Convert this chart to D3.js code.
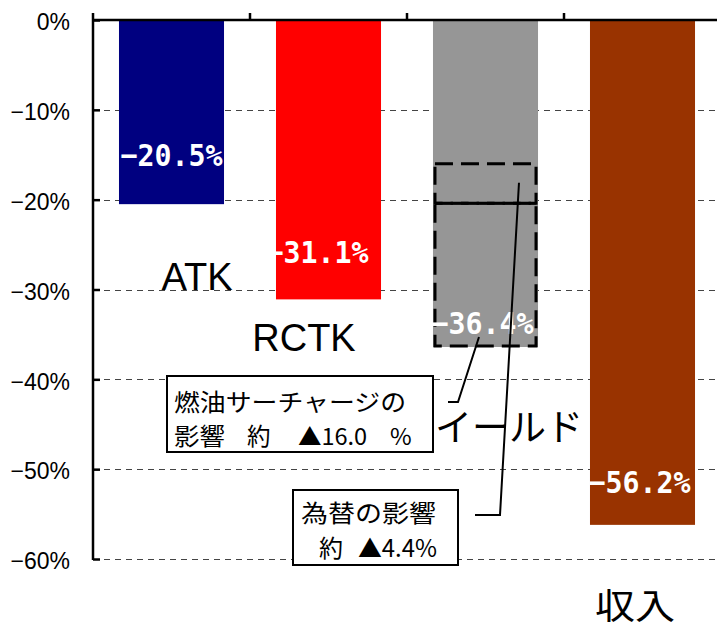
<!DOCTYPE html>
<html>
<head>
<meta charset="utf-8">
<script src="https://cdn.jsdelivr.net/npm/d3@7"></script>
<style>
  html, body { margin: 0; padding: 0; background: #fff; }
  svg { display: block; }
</style>
</head>
<body>
<svg id="chart" width="717" height="629"></svg>
<script>
// Categories and their change rates (%)
const categories = ["ATK", "RCTK", "イールド", "収入"];
const changes = [-20.5, -31.1, -36.4, -56.2];
const barColors = ["#000080", "#ff0000", "#969696", "#993300"];

// Y axis tick values (%)
const yTicks = [0, -10, -20, -30, -40, -50, -60];

// Breakdown of the yield decline (percentage points)
const fuelSurcharge = 16.0;
const fxEffect = 4.4;

const svg = d3.select("#chart");
const W = 717;

const x = d3.scaleBand()
  .domain(categories)
  .range([93, 721])
  .paddingInner(0.331)
  .paddingOuter(0.1655);

const y = d3.scaleLinear().domain([0, -60]).range([20, 559]);

const jpFont = "'Noto Sans CJK JP', sans-serif";
const latinFont = "'Liberation Sans', Arial, sans-serif";

// Dashed gridlines
svg.append("g")
  .selectAll("line")
  .data(yTicks.filter(d => d !== 0))
  .join("line")
  .attr("x1", 93).attr("x2", W)
  .attr("y1", d => Math.round(y(d)) + 0.5)
  .attr("y2", d => Math.round(y(d)) + 0.5)
  .attr("stroke", "#444")
  .attr("stroke-width", 1)
  .attr("stroke-dasharray", "6,5");

// Bars
svg.append("g")
  .selectAll("rect")
  .data(categories)
  .join("rect")
  .attr("x", d => x(d))
  .attr("y", y(0))
  .attr("width", x.bandwidth())
  .attr("height", (d, i) => y(changes[i]) - y(0))
  .attr("fill", (d, i) => barColors[i]);

// Yield breakdown boxes inside the yield bar
const yieldIdx = 2;
const yx = x(categories[yieldIdx]);
const bw = x.bandwidth();
const yBottom = changes[yieldIdx];
const yMid = yBottom + fuelSurcharge;
const yTop = yMid + fxEffect;
const brk = svg.append("g").attr("fill", "none").attr("stroke", "#000");
brk.append("rect")
  .attr("x", yx + 2).attr("y", y(yTop))
  .attr("width", bw - 4).attr("height", y(yMid) - y(yTop))
  .attr("stroke-width", 3).attr("stroke-dasharray", "18,8");
brk.append("rect")
  .attr("x", yx + 2).attr("y", y(yMid))
  .attr("width", bw - 4).attr("height", y(yBottom) - y(yMid) - 1)
  .attr("stroke-width", 3).attr("stroke-dasharray", "18,8");
brk.append("line")
  .attr("x1", yx + 2).attr("x2", yx + bw - 2)
  .attr("y1", y(yMid)).attr("y2", y(yMid))
  .attr("stroke-width", 2.5);

// Value labels inside the bars
const labelNudge = [[0, -49], [-11, -47], [-3, -24], [-3, -43]];
svg.append("g")
  .selectAll("text")
  .data(categories)
  .join("text")
  .attr("x", (d, i) => x(d) + bw / 2 + labelNudge[i][0])
  .attr("y", (d, i) => y(changes[i]) + labelNudge[i][1])
  .attr("text-anchor", "middle")
  .attr("dominant-baseline", "central")
  .attr("textLength", 102)
  .attr("lengthAdjust", "spacingAndGlyphs")
  .attr("fill", "#fff")
  .attr("font-family", "'DejaVu Sans Mono', monospace")
  .attr("font-weight", "bold")
  .attr("font-size", 31)
  .text((d, i) => "\u2212" + Math.abs(changes[i]).toFixed(1) + "%");

// Left axis with inward ticks
const yAxis = d3.axisLeft(y)
  .tickValues(yTicks)
  .tickSizeInner(-7)
  .tickSizeOuter(0)
  .tickPadding(23)
  .tickFormat(d => (d < 0 ? "\u2212" : "") + Math.abs(d) + "%");
const gy = svg.append("g").attr("transform", "translate(93,0)").call(yAxis);
gy.select(".domain").remove();
gy.selectAll(".tick line").attr("stroke", "#000").attr("stroke-width", 2.5);
gy.selectAll(".tick text")
  .attr("font-family", latinFont)
  .attr("font-size", 23)
  .attr("fill", "#000")
  .attr("dy", "0.42em");
svg.append("line")
  .attr("x1", 93).attr("x2", 93)
  .attr("y1", 13).attr("y2", y(-60) + 1)
  .attr("stroke", "#000").attr("stroke-width", 2.5);

// Top axis (0% line) with category boundary ticks
svg.append("line")
  .attr("x1", 92).attr("x2", W)
  .attr("y1", y(0)).attr("y2", y(0))
  .attr("stroke", "#000").attr("stroke-width", 2.5);
svg.append("g")
  .selectAll("line")
  .data(d3.range(1, categories.length))
  .join("line")
  .attr("x1", i => x.range()[0] + i * x.step())
  .attr("x2", i => x.range()[0] + i * x.step())
  .attr("y1", 13).attr("y2", y(0))
  .attr("stroke", "#000").attr("stroke-width", 2.5);

// Category labels
const catPos = [[197, 277], [304, 338], [509, 425], [635, 603]];
svg.append("g")
  .selectAll("text")
  .data(categories)
  .join("text")
  .attr("x", (d, i) => catPos[i][0])
  .attr("y", (d, i) => catPos[i][1])
  .attr("text-anchor", "middle")
  .attr("dominant-baseline", "central")
  .attr("font-family", (d, i) => i < 2 ? latinFont : jpFont)
  .attr("font-size", (d, i) => i < 2 ? 38 : (i === 2 ? 37 : 35))
  .attr("textLength", (d, i) => i === 3 ? 80 : null)
  .attr("lengthAdjust", "spacingAndGlyphs")
  .attr("fill", "#000")
  .text(d => d);

// Leader lines from the notes to the breakdown boxes
const lead = svg.append("g").attr("fill", "none").attr("stroke", "#000").attr("stroke-width", 2);
lead.append("path").attr("d", d3.line()([[448, 402], [458, 402], [yx + 46, y(yBottom) - 10]]));
lead.append("path").attr("d", d3.line()([[475, 515], [500, 515], [yx + 86, y(yTop) + 19]]));

// Note boxes
const notes = svg.append("g").attr("font-family", jpFont).attr("fill", "#000");
notes.append("rect")
  .attr("x", 167).attr("y", 376).attr("width", 266).attr("height", 76)
  .attr("fill", "#fff").attr("stroke", "#000").attr("stroke-width", 2);
notes.append("text").attr("x", 174).attr("y", 411).attr("font-size", 23.5)
  .attr("textLength", 232).attr("lengthAdjust", "spacingAndGlyphs")
  .text("燃油サーチャージの");
const n1 = notes.append("text").attr("y", 445).attr("font-size", 23.5);
n1.append("tspan").attr("x", 174).attr("textLength", 51).attr("lengthAdjust", "spacingAndGlyphs").text("影響");
n1.append("tspan").attr("x", 247).text("約");
n1.append("tspan").attr("x", 298).text("▲" + fuelSurcharge.toFixed(1));
n1.append("tspan").attr("x", 390).text("%");

notes.append("rect")
  .attr("x", 293).attr("y", 490).attr("width", 165).attr("height", 75)
  .attr("fill", "#fff").attr("stroke", "#000").attr("stroke-width", 2);
notes.append("text").attr("x", 301).attr("y", 522).attr("font-size", 24)
  .attr("textLength", 135).attr("lengthAdjust", "spacingAndGlyphs")
  .text("為替の影響");
const n2 = notes.append("text").attr("y", 557).attr("font-size", 24);
n2.append("tspan").attr("x", 319).text("約");
n2.append("tspan").attr("x", 358).attr("textLength", 79).attr("lengthAdjust", "spacingAndGlyphs")
  .text("▲" + fxEffect.toFixed(1) + "%");
</script>
</body>
</html>
